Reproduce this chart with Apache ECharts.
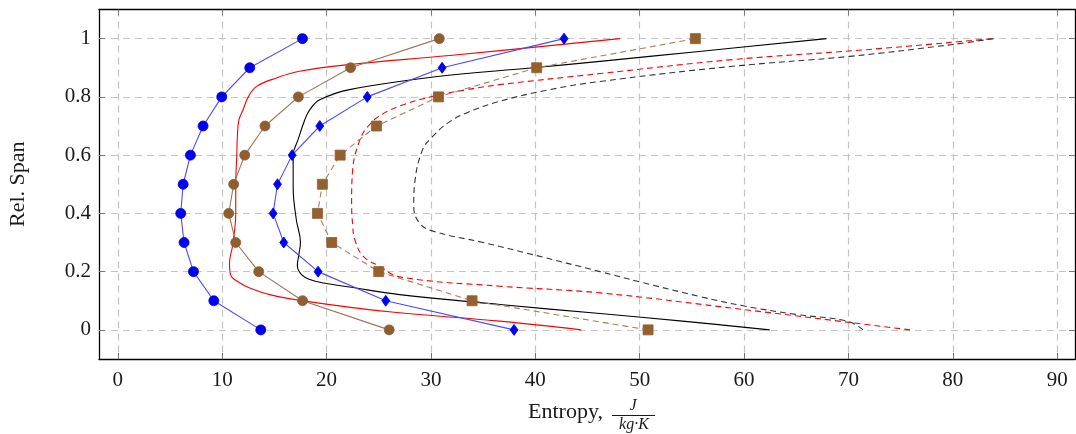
<!DOCTYPE html>
<html>
<head>
<meta charset="utf-8">
<script src="https://cdn.jsdelivr.net/npm/echarts@6/dist/echarts.min.js"></script>
<style>
  html, body { margin: 0; padding: 0; background: #fff; }
  #chart { width: 1076px; height: 434px; }
</style>
</head>
<body>
<div id="chart"></div>
<script>
// span stations shared by the marker series
const spans = [0, 0.1, 0.2, 0.3, 0.4, 0.5, 0.6, 0.7, 0.8, 0.9, 1.0];

// entropy at each span station (marker series)
const blueCircles = [13.7, 9.2, 7.25, 6.35, 6.03, 6.26, 6.96, 8.17, 9.96, 12.64, 17.69];
const brownCircles = [26.0, 17.7, 13.5, 11.3, 10.63, 11.1, 12.16, 14.1, 17.3, 22.3, 30.8];
const blueDiamonds = [37.96, 25.67, 19.19, 15.9, 14.88, 15.3, 16.7, 19.35, 23.9, 31.07, 42.75];
const brownSquares = [50.8, 33.94, 25.0, 20.5, 19.13, 19.6, 21.3, 24.78, 30.72, 40.13, 55.33];

// continuous curves, [entropy, span]
const redSolid = [[44.4, 0], [36.6, 0.03], [26.0, 0.062], [17.7, 0.1], [14.56, 0.121], [12.64, 0.144],
  [11.7, 0.161], [10.8, 0.19], [10.7, 0.23], [11.0, 0.29], [11.3, 0.4], [11.3, 0.5], [11.4, 0.6],
  [11.45, 0.66], [11.6, 0.72], [12.0, 0.756], [12.5, 0.8], [13.3, 0.836], [15.2, 0.865], [17.4, 0.888],
  [22.2, 0.911], [31.8, 0.942], [48.1, 1.0]];
const blackSolid = [[62.45, 0], [54.1, 0.03], [46.2, 0.056], [36.6, 0.087], [27.0, 0.121], [22.2, 0.147],
  [19.7, 0.161], [18.4, 0.173], [17.6, 0.19], [17.2, 0.22], [17.35, 0.26], [17.5, 0.3], [17.1, 0.379],
  [16.8, 0.49], [16.8, 0.6], [17.27, 0.653], [17.9, 0.72], [18.4, 0.756], [19.35, 0.79], [22.2, 0.825],
  [30.2, 0.868], [39.8, 0.9], [46.2, 0.922], [55.7, 0.956], [67.9, 1.0]];
const redDashed = [[75.9, 0], [59.9, 0.07], [46.2, 0.127], [36.6, 0.15], [27.0, 0.182], [25.1, 0.218],
  [23.5, 0.253], [22.7, 0.31], [22.5, 0.36], [22.4, 0.436], [22.5, 0.55], [23.2, 0.653], [24.0, 0.7],
  [25.3, 0.74], [27.5, 0.775], [30.2, 0.802], [33.3, 0.824], [36.6, 0.842], [46.2, 0.88], [58.9, 0.928],
  [71.7, 0.962], [83.8, 1.0]];
const blackDashed = [[71.4, 0], [69.9, 0.03], [65.0, 0.053], [60.0, 0.082], [55.7, 0.115], [50.0, 0.165],
  [46.2, 0.2], [39.8, 0.258], [35.0, 0.3], [30.2, 0.339], [28.9, 0.367], [28.35, 0.424], [28.45, 0.505],
  [29.2, 0.619], [30.2, 0.665], [31.6, 0.71], [33.4, 0.745], [36.6, 0.785], [41.4, 0.825], [46.2, 0.853],
  [58.9, 0.905], [70.1, 0.939], [80.0, 0.98], [83.9, 1.0]];

// tick labels
const xTicks = [0, 10, 20, 30, 40, 50, 60, 70, 80, 90];
const yTicks = [0, 0.2, 0.4, 0.6, 0.8, 1];

const font = '"Liberation Serif", "DejaVu Serif", serif';
const pair = (xs) => xs.map((x, i) => [x, spans[i]]);

const chart = echarts.init(document.getElementById('chart'));

const gridLine = { show: true, lineStyle: { color: '#c4c4c4', width: 1.2, type: [7, 5] } };
const frame = { show: true, onZero: false, lineStyle: { color: '#000', width: 1.3 } };
const innerTick = (vals) => ({ show: true, inside: true, length: 6, customValues: vals,
  lineStyle: { color: '#777', width: 1 } });

const markerLine = (data, color, lineColor, symbol, size, dashed) => ({
  type: 'line', data: data, symbol: symbol, symbolSize: size, showSymbol: true,
  lineStyle: { color: lineColor, width: 1.1, type: dashed ? [6, 4] : 'solid' },
  itemStyle: { color: color, borderColor: color, borderWidth: 0.8 },
  z: 4, animation: false
});
const curve = (data, color, dashed) => ({
  type: 'line', data: data, symbol: 'none', smooth: 0.4,
  lineStyle: { color: color, width: 1.1, type: dashed ? [6, 4] : 'solid' },
  z: 3, animation: false
});

const option = {
  backgroundColor: '#fff',
  animation: false,
  grid: { left: 99, right: 1, top: 9.5, bottom: 75, containLabel: false, outerBoundsMode: 'none' },
  xAxis: [
    {
      type: 'value', position: 'bottom', min: -1.8, max: 91.7,
      axisLine: frame, axisTick: innerTick(xTicks), splitLine: gridLine,
      axisLabel: { customValues: xTicks, margin: 11, fontFamily: font, fontSize: 21, color: '#1a1a1a' }
    },
    {
      type: 'value', position: 'top', min: -1.8, max: 91.7,
      axisLine: frame, axisTick: innerTick(xTicks), splitLine: { show: false },
      axisLabel: { show: false }
    }
  ],
  yAxis: [
    {
      type: 'value', position: 'left', min: -0.1, max: 1.1,
      name: 'Rel. Span', nameLocation: 'middle', nameGap: 70, nameRotate: 90,
      nameTextStyle: { fontFamily: font, fontSize: 22, color: '#1a1a1a' },
      axisLine: frame, axisTick: innerTick(yTicks), splitLine: gridLine,
      axisLabel: { customValues: yTicks, margin: 8, fontFamily: font, fontSize: 21, color: '#1a1a1a' }
    },
    {
      type: 'value', position: 'right', min: -0.1, max: 1.1,
      axisLine: frame, axisTick: innerTick(yTicks), splitLine: { show: false },
      axisLabel: { show: false }
    }
  ],
  graphic: [
    { type: 'text', x: 603, y: 412,
      style: { text: 'Entropy,', fontFamily: font, fontSize: 22, fill: '#1a1a1a',
        align: 'right', verticalAlign: 'middle' } },
    { type: 'text', x: 633, y: 406,
      style: { text: 'J', fontFamily: font, fontSize: 16, fontStyle: 'italic', fill: '#1a1a1a',
        align: 'center', verticalAlign: 'middle' } },
    { type: 'line', shape: { x1: 612, y1: 415.5, x2: 655, y2: 415.5 },
      style: { stroke: '#1a1a1a', lineWidth: 1 } },
    { type: 'text', x: 634, y: 425,
      style: { text: 'kg·K', fontFamily: font, fontSize: 16, fontStyle: 'italic', fill: '#1a1a1a',
        align: 'center', verticalAlign: 'middle' } }
  ],
  series: [
    curve(redSolid, '#ff0000', false),
    curve(blackSolid, '#000000', false),
    curve(redDashed, '#ff0000', true),
    curve(blackDashed, '#333333', true),
    markerLine(pair(blueCircles), '#0000ee', '#4a4aff', 'circle', 10, false),
    markerLine(pair(brownCircles), '#8f5e30', '#9a7556', 'circle', 10, false),
    markerLine(pair(blueDiamonds), '#0000ee', '#4a4aff', 'diamond', [8, 11], false),
    markerLine(pair(brownSquares), '#93602e', '#a08060', 'rect', 10, true)
  ]
};

chart.setOption(option);
</script>
</body>
</html>
